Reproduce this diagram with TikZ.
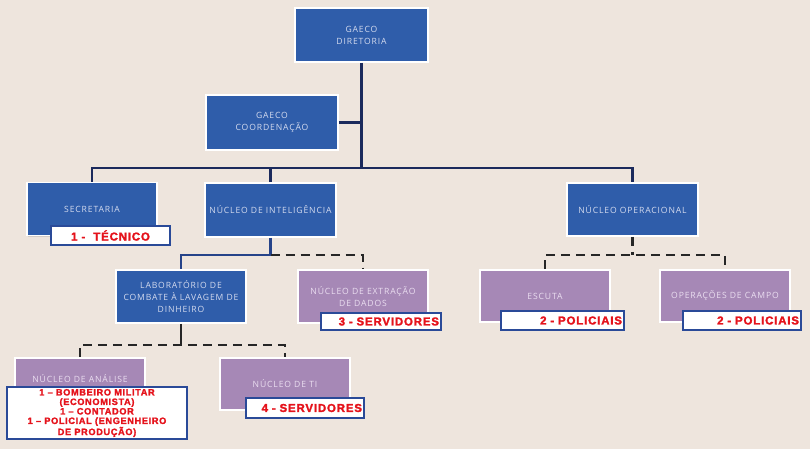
\documentclass[tikz,border=0pt]{standalone}
\usepackage{fontspec}
\setmainfont{Open Sans}[LetterSpace=10]
\newfontfamily\lblfont{Liberation Sans Bold}[LetterSpace=7, FakeBold=1.8]
\usetikzlibrary{shadows}
\definecolor{bgc}{HTML}{EEE5DD}
\definecolor{blueF}{HTML}{2F5DAA}
\definecolor{purpF}{HTML}{A688B6}
\definecolor{txtB}{HTML}{D3DAEE}
\definecolor{txtP}{HTML}{EADDF0}
\definecolor{linec}{HTML}{1B2A5C}
\definecolor{lblb}{HTML}{2A4A98}
\definecolor{lblr}{HTML}{E5121B}
\begin{document}
\begin{tikzpicture}[x=1pt,y=-1pt,
  box/.style={draw=white, line width=1.8pt, fill=blueF, text=txtB,
    font=\fontsize{8.6}{12}\selectfont, align=center, inner sep=1pt,
    minimum width=130pt, minimum height=53pt,
    drop shadow={shadow xshift=1pt, shadow yshift=-1.2pt, opacity=0.25}},
  pbox/.style={box, fill=purpF, text=txtP},
  lbl/.style={draw=lblb, line width=1.8pt, fill=white, text=lblr,
    font=\lblfont\fontsize{11.5}{11.5}\selectfont, inner sep=2pt},
  conn/.style={draw=linec, line width=2.4pt},
  dconn/.style={draw=black!85, line width=2.4pt, dash pattern=on 9pt off 6pt}]
\fill[bgc] (0,0) rectangle (810,449);
\useasboundingbox (0,0) rectangle (810,449);

\node[box, minimum width=133pt, minimum height=54pt] (dir) at (361.5,35) {GAECO\\DIRETORIA};
\node[box, minimum width=132pt, minimum height=55pt] (coord) at (272,122.5) {GAECO\\COORDENAÇÃO};
\node[box] (sec) at (92,209) {SECRETARIA};
\node[box, minimum width=131pt, minimum height=54pt] (intel) at (270.5,210) {NÚCLEO DE INTELIGÊNCIA};
\node[box, minimum width=131pt] (oper) at (632.5,209.5) {NÚCLEO OPERACIONAL};
\node[box] (lab) at (181,296.5) {LABORATÓRIO DE\\COMBATE À LAVAGEM DE\\DINHEIRO};
\node[pbox] (extr) at (363,296.5) {NÚCLEO DE EXTRAÇÃO\\DE DADOS};
\node[pbox, minimum height=52pt] (esc) at (545,296) {ESCUTA};
\node[pbox, minimum height=52pt] (campo) at (725,296) {OPERAÇÕES DE CAMPO};
\node[pbox, minimum height=52pt] (anal) at (80,384) {\raisebox{5pt}[\height][\depth]{NÚCLEO DE ANÁLISE}};
\node[pbox, minimum height=52pt] (ti) at (285,384) {NÚCLEO DE TI};

\coordinate (bus) at (0,168);
\coordinate (b2) at (0,255);
\coordinate (b3) at (0,345);

\draw[conn] (dir.south) -- (dir.south |- bus);
\draw[conn] (coord.east) -- (coord.east -| dir.south);
\draw[conn] (sec.north) -- (sec.north |- bus) -| (oper.north);
\draw[conn] (intel.north) -- (intel.north |- bus);
\draw[conn, draw=lblb!90!black] (intel.south) -- (intel.south |- b2) -| (lab.north);
\draw[dconn] (intel.south |- b2) -| (extr.north);
\draw[dconn] (oper.south) -- (oper.south |- b2);
\draw[dconn] (esc.north) |- (oper.south |- b2) -| (campo.north);
\draw[conn, draw=black!85] (lab.south) -- (lab.south |- b3);
\draw[dconn] (anal.north) |- (lab.south |- b3) -| (ti.north);

\node[lbl, minimum width=119pt, minimum height=19pt] (l1) at (110.5,235.5) {1 -\ \ TÉCNICO};
\node[lbl, minimum height=17pt, text width=116pt, align=right] (l3) at (381,321.5) {3 - SERVIDORES};
\node[lbl, minimum height=19pt, text width=119pt, align=right] (l2a) at (562.5,320.5) {2 - POLICIAIS};
\node[lbl, minimum height=19pt, text width=114pt, align=right] (l2b) at (742,320.5) {2 - POLICIAIS};
\node[lbl, minimum height=20pt, text width=114pt, align=right] (l4) at (305,408) {4 - SERVIDORES};
\node[lbl, minimum width=180pt, minimum height=49pt, align=center,
  font=\lblfont\fontsize{9.2}{9.5}\selectfont] (lan) at (97,413)
  {1 – BOMBEIRO MILITAR\\(ECONOMISTA)\\1 – CONTADOR\\1 – POLICIAL (ENGENHEIRO\\DE PRODUÇÃO)};
\end{tikzpicture}
\end{document}
